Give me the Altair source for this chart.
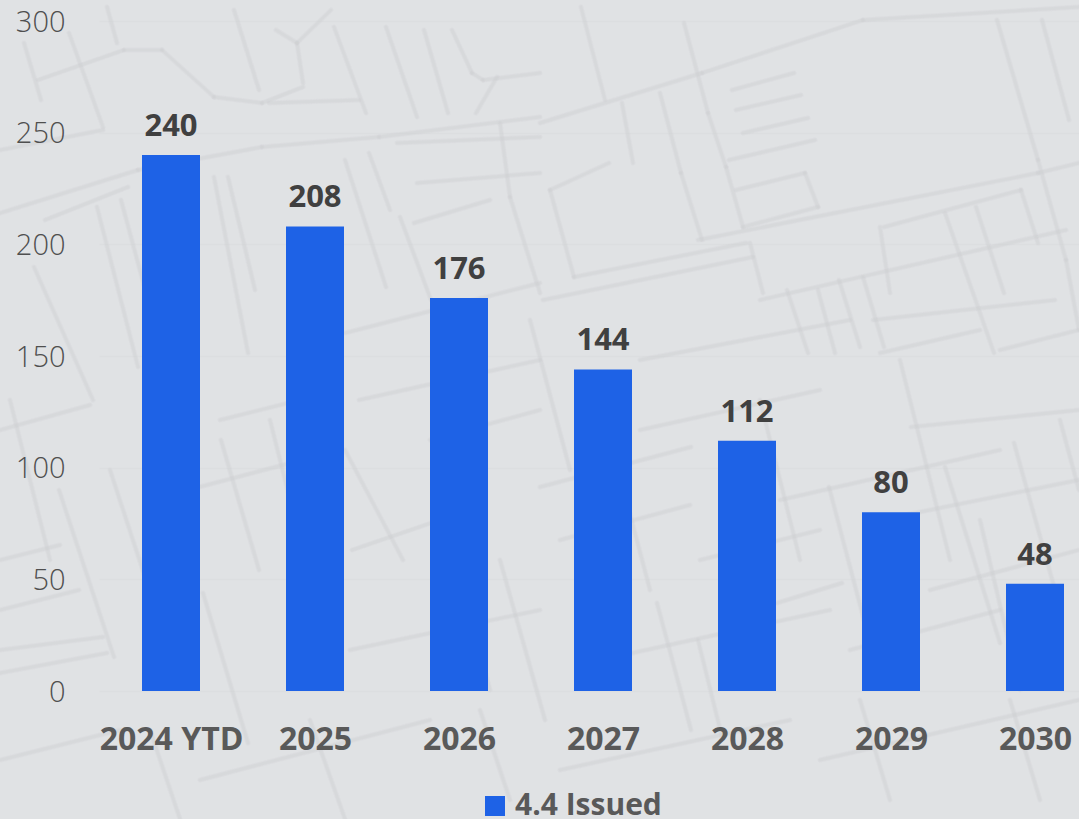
import altair as alt
import pandas as pd

years = ["2024 YTD", "2025", "2026", "2027", "2028", "2029", "2030"]
issued = [240, 208, 176, 144, 112, 80, 48]
series_name = "4.4 Issued"
y_ticks = [0, 50, 100, 150, 200, 250, 300]

# Street-map backdrop: each tuple is one road segment (x, y, x2, y2) in page units.
streets_long = [
    (24, 43, 41, 100), (69, 33, 103, 127), (107, 7, 117, 43), (234, 10, 259, 90),
    (297, 43, 303, 83), (334, 27, 366, 113), (386, 27, 417, 117), (424, 30, 448, 113),
    (214, 177, 248, 353), (121, 200, 166, 367), (97, 207, 138, 367), (34, 267, 93, 400),
    (228, 177, 255, 290), (345, 160, 386, 287), (369, 153, 390, 210), (400, 217, 431, 300),
    (500, 123, 510, 197), (510, 197, 540, 293), (684, 23, 708, 113), (708, 113, 726, 167),
    (726, 167, 743, 227), (581, 7, 605, 100), (997, 20, 1038, 160), (1038, 160, 1066, 260),
    (1066, 260, 1079, 330), (1042, 20, 1069, 120), (550, 190, 574, 277), (660, 93, 681, 173),
    (681, 173, 702, 240), (622, 103, 633, 163), (750, 243, 763, 293), (880, 227, 890, 293),
    (787, 290, 808, 353), (818, 290, 835, 353), (839, 280, 860, 347), (863, 277, 884, 347),
    (945, 213, 994, 353), (976, 207, 1004, 293), (59, 490, 114, 657), (110, 470, 145, 577),
    (203, 593, 248, 743), (221, 440, 259, 570), (345, 450, 403, 560), (698, 640, 722, 737),
    (829, 487, 870, 643), (945, 467, 1000, 643), (1014, 443, 1055, 590), (657, 603, 691, 730),
    (10, 400, 50, 560), (270, 420, 320, 620), (530, 320, 570, 470), (600, 400, 650, 590),
    (760, 400, 800, 560), (900, 360, 950, 560), (310, 720, 345, 819), (150, 730, 180, 819),
    (480, 710, 510, 800), (860, 700, 890, 800), (1010, 700, 1040, 800),
    (440, 500, 490, 690), (500, 560, 545, 720), (1060, 420, 1079, 490), (980, 520, 1020, 690),
]
streets_cross = [
    (38, 80, 124, 50), (124, 50, 162, 50), (162, 50, 214, 97), (214, 97, 262, 103),
    (262, 103, 303, 87), (276, 30, 297, 43), (297, 43, 331, 10), (452, 30, 472, 73),
    (472, 73, 483, 80), (483, 80, 540, 73), (497, 77, 476, 113), (0, 213, 138, 170),
    (138, 170, 262, 147), (262, 147, 379, 137), (379, 137, 540, 117), (269, 103, 359, 100),
    (0, 150, 103, 130), (45, 220, 128, 187), (397, 143, 540, 137), (417, 183, 540, 173),
    (414, 223, 490, 200), (345, 333, 540, 283), (359, 400, 540, 360), (702, 73, 863, 20),
    (863, 20, 1079, 7), (540, 123, 702, 73), (732, 90, 794, 73), (736, 110, 801, 95),
    (743, 133, 808, 118), (729, 160, 815, 140), (736, 190, 805, 173), (805, 173, 818, 207),
    (818, 207, 743, 227), (550, 190, 609, 163), (574, 277, 746, 243), (543, 300, 753, 257),
    (698, 240, 1038, 173), (1038, 173, 1079, 163), (884, 227, 1021, 190), (1021, 190, 1038, 243),
    (760, 300, 1066, 230), (873, 320, 1055, 300), (880, 353, 980, 330), (0, 610, 79, 590),
    (0, 650, 103, 637), (0, 673, 107, 653), (352, 550, 431, 523), (540, 487, 691, 447),
    (911, 427, 1079, 410), (777, 603, 842, 583), (0, 430, 90, 405), (220, 420, 340, 390),
    (430, 440, 540, 410), (640, 360, 850, 320), (1000, 350, 1079, 330), (700, 560, 820, 530),
    (880, 520, 1079, 480), (0, 760, 120, 730), (200, 780, 430, 720), (560, 770, 790, 720),
    (820, 760, 1079, 700), (350, 650, 540, 610), (850, 650, 1000, 610),
    (640, 430, 820, 390), (780, 500, 1000, 450), (560, 540, 690, 505), (930, 590, 1079, 550),
    (150, 500, 340, 450), (0, 560, 60, 545), (600, 660, 830, 610),
]
street_rows = streets_long + streets_cross

table = pd.DataFrame({"year": years, "issued": issued, "series": series_name})
streets = pd.DataFrame(street_rows, columns=["x", "y", "x2", "y2"])


def street_layer(stroke_width, opacity):
    page_x = alt.Scale(domain=[99, 1079], range=[0, 980], nice=False, zero=False)
    page_y = alt.Scale(domain=[21, 691], range=[0, 670], nice=False, zero=False)
    return (
        alt.Chart(streets)
        .mark_rule(color="#cdcfd2", strokeWidth=stroke_width, opacity=opacity, strokeCap="round")
        .encode(
            x=alt.X("x:Q", scale=page_x, axis=None),
            x2="x2:Q",
            y=alt.Y("y:Q", scale=page_y, axis=None),
            y2="y2:Q",
        )
    )


band_scale = alt.Scale(domain=years, range=[0, 1008], paddingInner=0.597, paddingOuter=0.2985)
value_scale = alt.Scale(domain=[0, 300])

bars = (
    alt.Chart(table)
    .mark_bar(size=58)
    .encode(
        x=alt.X("year:N", title=None, scale=band_scale, axis=None),
        # Gridlines stay with the bars, below them; the tick labels live on the text layer.
        y=alt.Y(
            "issued:Q",
            title=None,
            scale=value_scale,
            axis=alt.Axis(
                orient="left",
                values=y_ticks,
                labels=False,
                ticks=False,
                domain=False,
                grid=True,
                gridColor="#dcdee0",
                gridWidth=1.5,
            ),
        ),
        color=alt.Color(
            "series:N",
            scale=alt.Scale(range=["#1e62e6"]),
            legend=alt.Legend(
                title=None,
                orient="none",
                legendX=381,
                legendY=770,
                symbolType="square",
                symbolSize=400,
                symbolStrokeWidth=0,
                symbolOpacity=1,
                labelFont="Open Sans",
                labelFontSize=30,
                labelFontWeight="bold",
                labelColor="#595959",
                labelLimit=300,
                labelOffset=5,
            ),
        ),
    )
)
labels = (
    alt.Chart(table)
    .mark_text(dy=-19, font="Open Sans", fontSize=31, fontWeight="bold", color="#404040", baseline="alphabetic")
    .encode(
        x=alt.X(
            "year:N",
            title=None,
            scale=band_scale,
            axis=alt.Axis(
                orient="bottom",
                labelAngle=0,
                labelFont="Open Sans",
                labelFontSize=32,
                labelFontWeight="bold",
                labelColor="#595959",
                labelPadding=33,
                ticks=False,
                domain=False,
                grid=False,
                zindex=1,
            ),
        ),
        y=alt.Y(
            "issued:Q",
            title=None,
            scale=value_scale,
            axis=alt.Axis(
                orient="left",
                values=y_ticks,
                labelFont="Open Sans",
                labelFontSize=29,
                labelFontWeight=300,
                labelColor="#4f4f4f",
                labelPadding=34,
                labelOffset=1,
                ticks=False,
                domain=False,
                grid=False,
                zindex=1,
            ),
        ),
        text="issued:Q",
    )
)

chart = (
    alt.layer(street_layer(5, 0.2), street_layer(3, 0.28), bars, labels)
    .resolve_scale(x="independent", y="independent")
    .properties(
        width=980,
        height=670,
        padding={"left": 99, "top": 21, "right": 0, "bottom": 128},
        autosize=alt.AutoSizeParams(type="none"),
        background="#e0e2e4",
    )
    .configure_view(stroke=None)
)

chart.save("out.html", embed_options={"renderer": "svg", "actions": False})
